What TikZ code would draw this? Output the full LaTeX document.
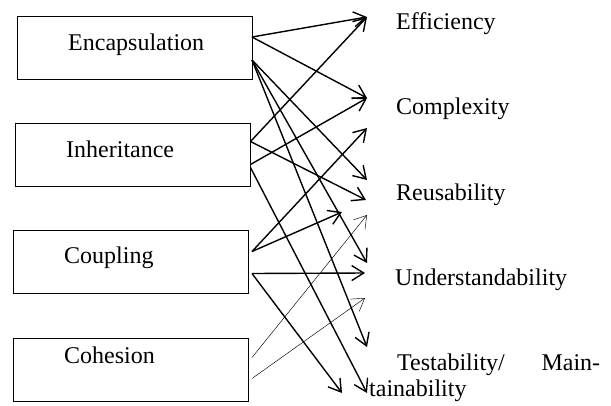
\documentclass[tikz,border=0pt]{standalone}
\usepackage{fontspec}
\setmainfont{Liberation Serif}
\usetikzlibrary{arrows.meta}
\begin{document}
\begin{tikzpicture}[x=1pt,y=-1pt,
  box/.style={draw,line width=1pt,minimum width=235pt,minimum height=63pt,inner sep=0pt,outer sep=0pt},
  lbl/.style={inner sep=0pt,anchor=base west,font=\fontsize{24}{27}\selectfont},
  link/.style={line width=1.4pt,-{Straight Barb[length=12pt,width=15pt,line width=1.4pt]}},
  weak/.style={line width=0.45pt,-{Straight Barb[length=12pt,width=15pt,line width=0.45pt]}}]
\useasboundingbox (0,0) rectangle (611,405);

% factor boxes
\node[box] (enc) at (134.5,47.5) {};
\node[box] (inh) at (133,155) {};
\node[box] (cou) at (130.5,262) {};
\node[box] (coh) at (130.5,370) {};
\node[lbl] (enct) at (68,50) {Encapsulation};
\node[lbl] (inht) at (66,157) {Inheritance};
\node[lbl] (cout) at (64,263) {Coupling};
\node[lbl] (coht) at (64,363) {Cohesion};

% quality attributes
\node[lbl] (eff) at (396,29) {Efficiency};
\node[lbl] (cpx) at (396,114) {Complexity};
\node[lbl] (reu) at (396,200) {Reusability};
\node[lbl] (und) at (395,285) {Understandability};
\node[lbl] (tst) at (397,370) {\hbox to 203pt{Testability/\hfill Main-}};
\node[lbl] (mnt) at (369,396) {tainability};

% arrow tips
\coordinate (t1) at (367,17);
\coordinate (t2) at (367,98);
\coordinate (t3) at (367,128);
\coordinate (t4) at (367,180);
\coordinate (t5) at (366,200);
\coordinate (t6) at (342,212);
\coordinate (t7) at (367,215);
\coordinate (t8) at (367,263);
\coordinate (t9) at (365,273);
\coordinate (t10) at (365,298);
\coordinate (t11) at (367,347);
\coordinate (t12) at (342,393);
\coordinate (t13) at (367,393);

% Encapsulation
\draw[link] ([yshift=-21pt]enc.north east) -- (t1);
\draw[link] ([yshift=-21pt]enc.north east) -- (t2);
\draw[link] ([yshift=-44pt]enc.north east) -- (t4);
\draw[link] ([yshift=-44pt]enc.north east) -- (t8);
\draw[link] ([yshift=-44pt]enc.north east) -- (t11);
% Inheritance
\draw[link] ([yshift=-18pt]inh.north east) -- (t1);
\draw[link] ([yshift=-18pt]inh.north east) -- (t5);
\draw[link] ([yshift=-41pt]inh.north east) -- (t2);
\draw[link] ([yshift=-44pt]inh.north east) -- (t13);
% Coupling
\draw[link] ([xshift=4pt,yshift=-21pt]cou.north east) -- (t3);
\draw[link] ([xshift=4pt,yshift=-21pt]cou.north east) -- (t6);
\draw[link] ([xshift=4pt,yshift=-43pt]cou.north east) -- (t9);
\draw[link] ([xshift=4pt,yshift=-43pt]cou.north east) -- (t12);
% Cohesion
\draw[weak] ([xshift=4pt,yshift=-19pt]coh.north east) -- (t7);
\draw[weak] ([xshift=4pt,yshift=-40pt]coh.north east) -- (t10);
\end{tikzpicture}
\end{document}
